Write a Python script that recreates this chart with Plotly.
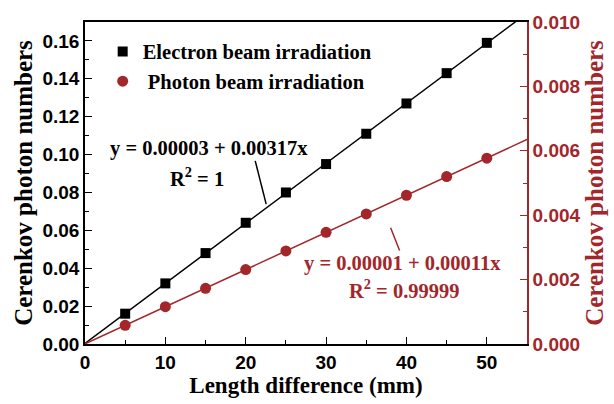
import numpy as np
import plotly.graph_objects as go

length_mm = [5, 10, 15, 20, 25, 30, 35, 40, 45, 50]
electron = [0.016, 0.032, 0.048, 0.064, 0.080, 0.095, 0.111, 0.127, 0.143, 0.159]
photon = [0.00058, 0.00116, 0.00173, 0.00231, 0.00289, 0.00347, 0.00404, 0.00462, 0.00520, 0.00577]
fit_x = [0, 55]

RED = "#a3262a"
SERIF = "Liberation Serif, Times New Roman, serif"
SANS = "Liberation Sans, Arial, sans-serif"

pe = np.polyfit(length_mm, electron, 1)
pp = np.polyfit(length_mm, photon, 1)
fx = np.array(fit_x, dtype=float)

L, R, T, B = 85, 529, 17, 344
PW, PH = R - L, B - T


def px(x):
    return (x - L) / PW


def py(y):
    return (B - y) / PH


fig = go.Figure()
fig.add_trace(go.Scatter(x=fx, y=np.polyval(pe, fx), mode="lines",
                         line=dict(color="black", width=1.5), showlegend=False))
fig.add_trace(go.Scatter(x=fx, y=np.polyval(pp, fx), mode="lines", yaxis="y2",
                         line=dict(color=RED, width=1.5), showlegend=False))
fig.add_trace(go.Scatter(x=length_mm, y=electron, mode="markers", name="Electron beam irradiation",
                         marker=dict(symbol="square", size=10, color="black")))
fig.add_trace(go.Scatter(x=length_mm, y=photon, mode="markers", yaxis="y2", name=" Photon beam irradiation",
                         marker=dict(symbol="circle", size=11, color=RED)))

tickfont_k = dict(family=SANS, size=19, color="black", weight="bold")
tickfont_r = dict(family=SANS, size=19, color=RED, weight="bold")

fig.update_layout(
    width=614, height=404,
    margin=dict(l=L, r=614 - R, t=T, b=404 - B),
    paper_bgcolor="white", plot_bgcolor="white",
    font=dict(family=SERIF),
    showlegend=True,
    legend=dict(x=0.04, y=0.97, xanchor="left", yanchor="top", bgcolor="rgba(0,0,0,0)",
                font=dict(family=SERIF, size=20.5, color="black", weight="bold"), tracegroupgap=0,
                itemwidth=30),
    xaxis=dict(range=[0, 55], tickvals=[0, 10, 20, 30, 40, 50], ticks="inside", ticklen=7,
               tickwidth=1.2, tickcolor="black",
               minor=dict(dtick=5, ticks="inside", ticklen=4, tickcolor="black"),
               showline=True, linecolor="black", linewidth=1.5, mirror=True, showgrid=False,
               zeroline=False, tickfont=tickfont_k,
               title=dict(text="Length difference (mm)",
                          font=dict(family=SERIF, size=23, color="black", weight="bold"),
                          standoff=2)),
    yaxis=dict(range=[0, 0.17], tickvals=[0, 0.02, 0.04, 0.06, 0.08, 0.10, 0.12, 0.14, 0.16],
               tickformat=".2f", ticks="inside", ticklen=7, tickwidth=1.2, tickcolor="black",
               minor=dict(dtick=0.01, ticks="inside", ticklen=4, tickcolor="black"),
               showline=True, linecolor="black", linewidth=1.5, showgrid=False, zeroline=False,
               tickfont=tickfont_k,
               title=dict(text="Cerenkov photon numbers",
                          font=dict(family=SERIF, size=25, color="black", weight="bold"),
                          standoff=3)),
    yaxis2=dict(range=[0, 0.010], overlaying="y", side="right",
                tickvals=[0, 0.002, 0.004, 0.006, 0.008, 0.010], tickformat=".3f",
                ticks="inside", ticklen=7, tickwidth=1.2, tickcolor=RED,
                minor=dict(dtick=0.001, ticks="inside", ticklen=4, tickcolor=RED),
                showline=True, linecolor=RED, linewidth=1.5, showgrid=False, zeroline=False,
                tickfont=tickfont_r,
                title=dict(text="Cerenkov photon numbers",
                           font=dict(family=SERIF, size=25, color=RED, weight="bold"),
                           standoff=4)),
)

# leader lines
fig.add_shape(type="line", xref="paper", yref="paper",
              x0=px(256), y0=py(158), x1=px(267), y1=py(202),
              line=dict(color="black", width=1.5))
fig.add_shape(type="line", xref="paper", yref="paper",
              x0=px(392), y0=py(226), x1=px(401), y1=py(249),
              line=dict(color=RED, width=1.5))

ann = dict(xref="paper", yref="paper", showarrow=False, xanchor="center", yanchor="middle")
fig.add_annotation(x=px(210), y=py(145), text="<b>y = 0.00003 + 0.00317x</b>",
                   font=dict(family=SERIF, size=20.5, color="black"), **ann)
fig.add_annotation(x=px(198), y=py(174), text="<b>R<sup>2</sup> = 1</b>",
                   font=dict(family=SERIF, size=20.5, color="black"), **ann)
fig.add_annotation(x=px(404), y=py(262), text="<b>y = 0.00001 + 0.00011x</b>",
                   font=dict(family=SERIF, size=20.5, color=RED), **ann)
fig.add_annotation(x=px(406), y=py(288), text="<b>R<sup>2</sup> = 0.99999</b>",
                   font=dict(family=SERIF, size=20.5, color=RED), **ann)

fig.write_html("out.html")
